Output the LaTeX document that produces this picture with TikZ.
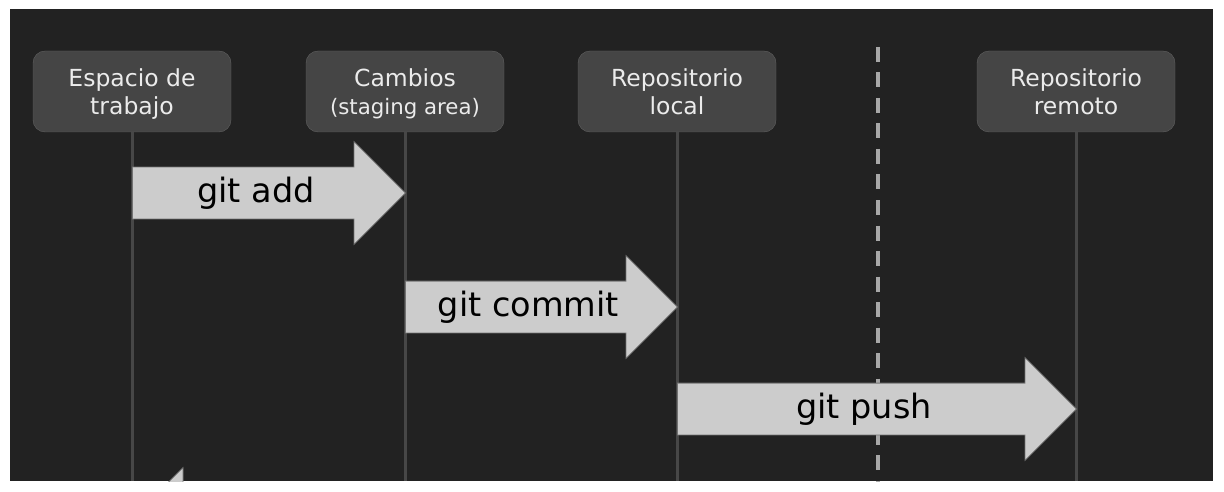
\documentclass[tikz,border=0pt]{standalone}
\usepackage{fontspec}
\setmainfont{DejaVu Sans}
\usetikzlibrary{shapes.arrows,calc}
\definecolor{bgdark}{HTML}{222222}
\definecolor{boxgray}{HTML}{454545}
\definecolor{linegray}{HTML}{474747}
\definecolor{arrowgray}{HTML}{CCCCCC}
\definecolor{dashgray}{HTML}{A8A8A8}
\tikzset{
  areabox/.style={rectangle,rounded corners=12pt,draw=boxgray!85!white,fill=boxgray,minimum width=198pt,minimum height=81pt,align=center,text=white!92!black,font=\fontsize{23.5}{28.5}\selectfont,inner sep=0pt},
  lifeline/.style={draw=linegray,line width=3pt},
  gitarrow/.style={single arrow,single arrow head extend=25.5pt,single arrow tip angle=90,inner xsep=0pt,inner ysep=25.5pt,fill=arrowgray,draw=black!55,line width=0.8pt,anchor=tail},
  gitlabel/.style={font=\fontsize{33.5}{40}\selectfont,text=black,inner sep=0pt},
  boundary/.style={draw=dashgray,line width=4pt,dash pattern=on 15pt off 10.5pt}
}

\begin{document}
\begin{tikzpicture}[x=1pt,y=-1pt]
  \useasboundingbox (0,0) rectangle (1224,492);
  \fill[bgdark] (10,9) rectangle (1213,481);
  \coordinate (bottom) at (0,481);

  % boundary local / remote
  \coordinate (dtop) at (878,47);
  \draw[boundary] (dtop) -- (dtop |- bottom);

  % areas
  \node[areabox] (ws) at (132,91.5) {Espacio de\\\smash{trabajo}};
  \node[areabox] (st) at (405,91.5) {Cambios\\\smash{\fontsize{21.3}{24}\selectfont (staging area)}};
  \node[areabox] (lr) at (677,91.5) {Repositorio\\local};
  \node[areabox] (rr) at (1076,91.5) {Repositorio\\remoto};

  \foreach \area in {ws,st,lr,rr}
    \draw[lifeline] (\area.south) -- (\area.south |- bottom);

  % commands
  \node[gitarrow,minimum height=273pt] (add) at (ws |- 0,193) {};
  \node[gitarrow,minimum height=272pt] (commit) at (st |- 0,307) {};
  \node[gitarrow,minimum height=399pt] (push) at (lr |- 0,409) {};
  \node[gitlabel] at ($(add.tail)!0.5!(add.tip)+(-13,0)$) {git add};
  \node[gitlabel] at ($(commit.tail)!0.5!(commit.tip)+(-13,0)$) {git commit};
  \node[gitlabel] at ($(push.tail)!0.5!(push.tip)+(-13,0)$) {git push};

  \begin{scope}
    \clip (10,9) rectangle (1213,481);
    \node[gitarrow,minimum height=273pt,shape border rotate=180] (back) at (st |- 0,519) {};
  \end{scope}
\end{tikzpicture}
\end{document}
